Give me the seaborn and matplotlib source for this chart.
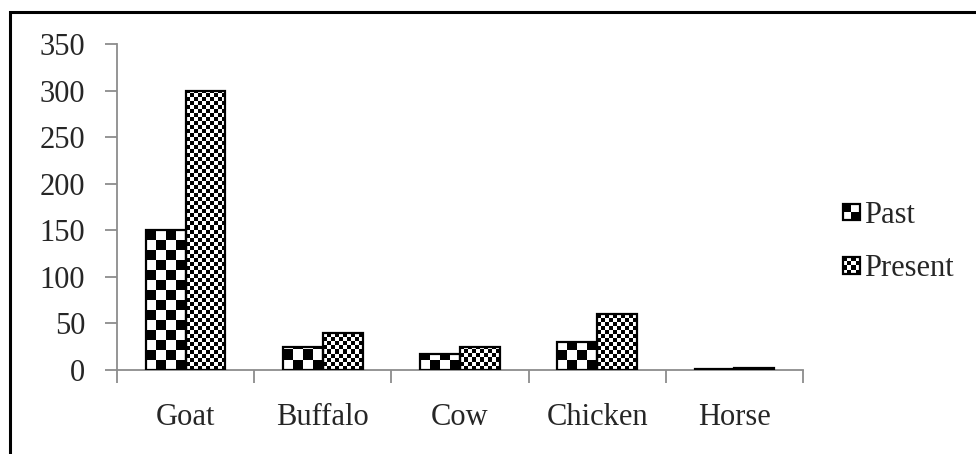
import numpy as np
import pandas as pd
import matplotlib
matplotlib.use("Agg")
import matplotlib.pyplot as plt
import seaborn as sns
from matplotlib.patches import Rectangle
from matplotlib.legend_handler import HandlerBase

# Livestock counts
animals = ["Goat", "Buffalo", "Cow", "Chicken", "Horse"]
past = [150, 25, 17, 30, 1]
present = [300, 40, 25, 60, 2]
periods = ["Past", "Present"]
y_ticks = [0, 50, 100, 150, 200, 250, 300, 350]

df = pd.DataFrame({
    "animal": animals * 2,
    "count": past + present,
    "period": [periods[0]] * len(animals) + [periods[1]] * len(animals),
})

sns.set_style("white")
plt.rcParams["font.family"] = ["Liberation Serif", "DejaVu Serif"]
plt.rcParams["font.size"] = 22

fig = plt.figure(figsize=(9.76, 4.54), dpi=100)
ax = fig.add_axes([117 / 976, 1 - 370 / 454, (803 - 117) / 976, (370 - 44) / 454])

sns.barplot(data=df, x="animal", y="count", hue="period", order=animals,
            hue_order=periods, palette=["white", "white"], edgecolor="black",
            linewidth=1.6, width=0.58, ax=ax, legend=False, zorder=3)

ax.set_ylim(0, 350)
ax.set_xlim(-0.5, len(animals) - 0.5)
ax.set_yticks(y_ticks)
ax.set_xlabel("")
ax.set_ylabel("")

# Checkerboard fill clipped to each bar
cell_sizes = [10, 4]
for container, cell in zip(ax.containers, cell_sizes):
    for bar in container:
        x0, y0 = bar.get_x(), bar.get_y()
        x1, y1 = x0 + bar.get_width(), y0 + bar.get_height()
        if y1 - y0 <= 0:
            continue
        (px0, py0), (px1, py1) = ax.transData.transform([(x0, y0), (x1, y1)])
        w = max(int(round(px1 - px0)), 1)
        h = max(int(round(py1 - py0)), 1)
        ii, jj = np.mgrid[0:h, 0:w]
        pattern = ((ii // cell) + (jj // cell)) % 2
        img = ax.imshow(pattern, extent=(x0, x1, y1, y0), origin="upper",
                        cmap="gray_r", vmin=0, vmax=1, interpolation="nearest",
                        aspect="auto", zorder=2)
        img.set_clip_path(bar)
        bar.set_facecolor("none")
ax.set_ylim(0, 350)
ax.set_xlim(-0.5, len(animals) - 0.5)

# Axis styling
axis_color = "#8c8c8c"
sns.despine(ax=ax, top=True, right=True)
for side in ("left", "bottom"):
    ax.spines[side].set_color(axis_color)
    ax.spines[side].set_linewidth(1.3)
ax.tick_params(axis="y", which="major", length=9, width=1.3, color=axis_color,
               pad=14, labelsize=22, direction="out", left=True)
ax.set_xticks(np.arange(-0.5, len(animals)), minor=True)
ax.tick_params(axis="x", which="minor", length=9, width=1.3, color=axis_color,
               direction="out", bottom=True)
ax.tick_params(axis="x", which="major", length=0, pad=24, labelsize=22)


class CheckerHandler(HandlerBase):
    def __init__(self, n):
        super().__init__()
        self.n = n

    def create_artists(self, legend, orig_handle, xdescent, ydescent, width,
                       height, fontsize, trans):
        size = min(width, height)
        x0, y0 = -xdescent, -ydescent + (height - size) / 2
        c = size / self.n
        arts = [Rectangle((x0, y0), size, size, fc="white", ec="none",
                          transform=trans)]
        for i in range(self.n):
            for j in range(self.n):
                if (i + j) % 2 == 1:
                    arts.append(Rectangle((x0 + i * c, y0 + j * c), c, c,
                                          fc="black", ec="none", transform=trans))
        arts.append(Rectangle((x0, y0), size, size, fc="none", ec="black",
                              lw=1.6, transform=trans))
        return arts


h_past = Rectangle((0, 0), 1, 1)
h_present = Rectangle((0, 0), 1, 1)
fig.legend([h_past, h_present], periods, loc="center left",
           bbox_to_anchor=(843 / 976, 1 - 242 / 454), frameon=False,
           handler_map={h_past: CheckerHandler(2), h_present: CheckerHandler(4)},
           handlelength=0.55, handleheight=0.55, handletextpad=0.15,
           labelspacing=0.8, borderpad=0, borderaxespad=0, fontsize=22)

# Outer frame
fig.patches.append(Rectangle((10 / 976, -0.2), 1.2, 1 - 12 / 454 + 0.2,
                             transform=fig.transFigure, fill=False,
                             ec="black", lw=2.2))

fig.savefig("out.png", dpi=100)
